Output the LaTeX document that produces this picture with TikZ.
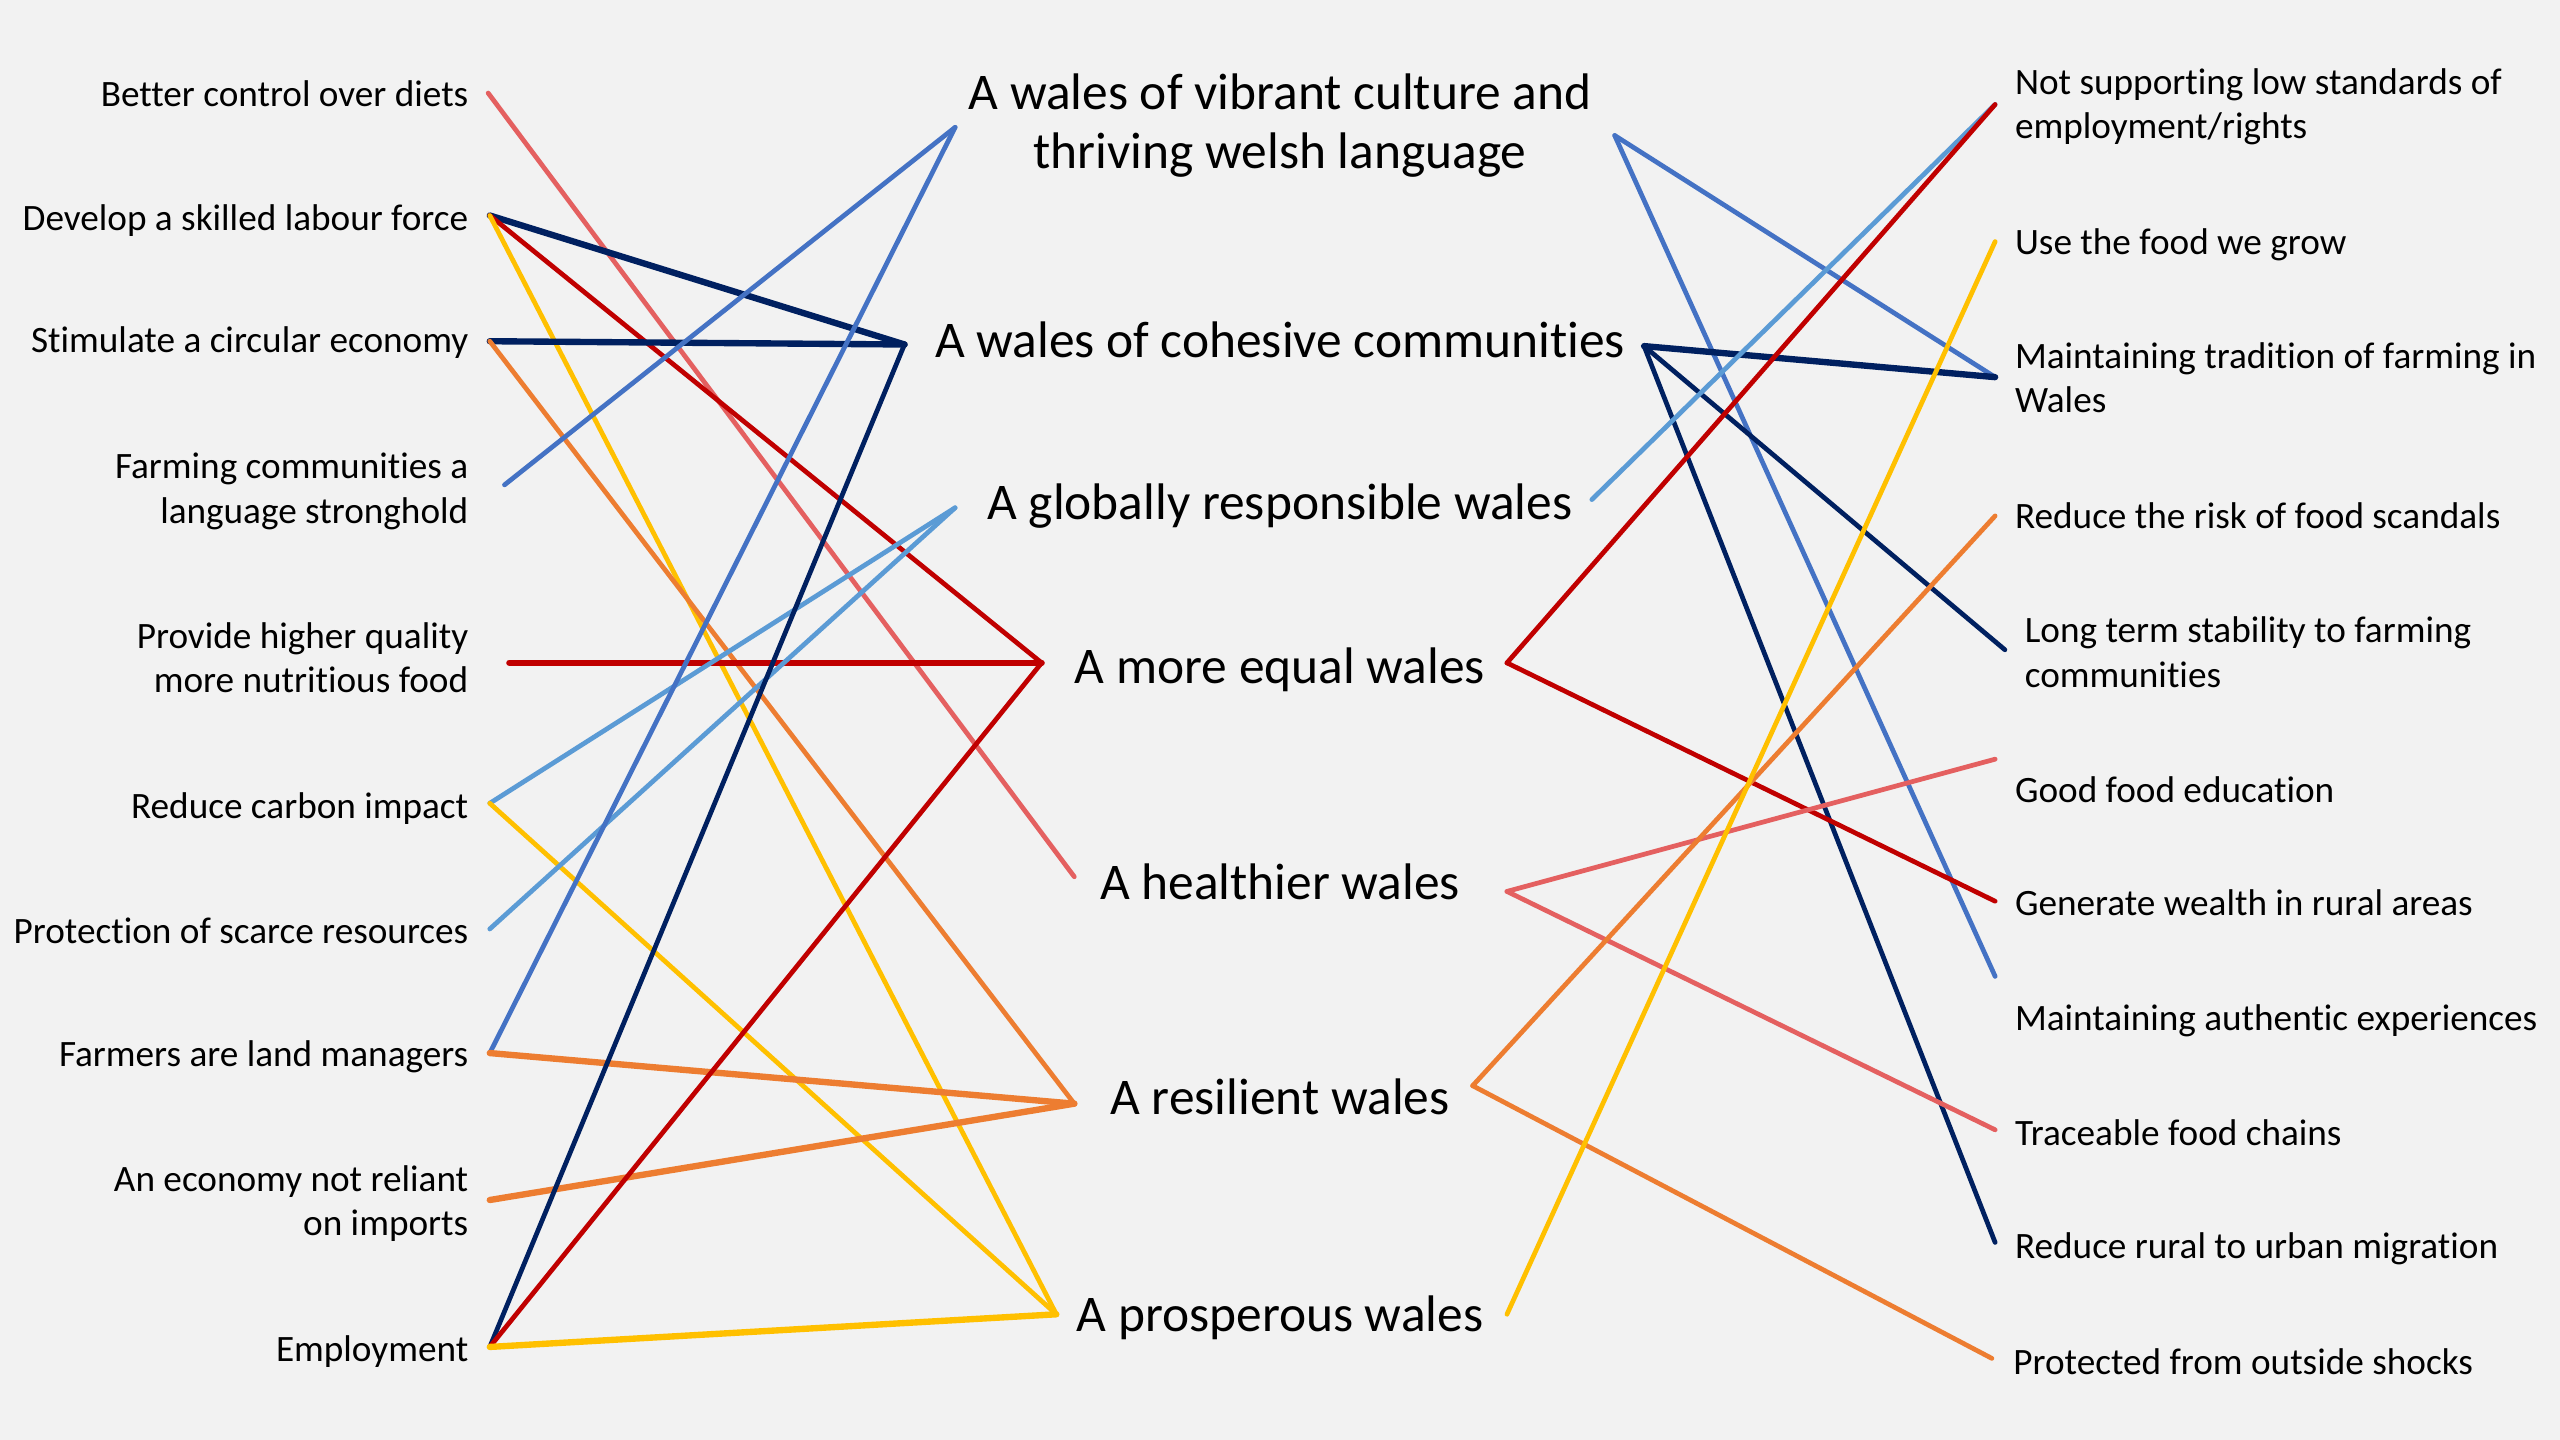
\documentclass[tikz,border=0pt]{standalone}
\usepackage{fontspec}
\setmainfont[Ligatures=NoCommon]{Carlito}
\definecolor{bg}{HTML}{F2F2F2}
\definecolor{cnavy}{HTML}{002060}
\definecolor{cblue}{HTML}{4472C4}
\definecolor{clight}{HTML}{5B9BD5}
\definecolor{cred}{HTML}{C00000}
\definecolor{cpink}{HTML}{E46060}
\definecolor{corange}{HTML}{ED7D31}
\definecolor{cyellow}{HTML}{FFC000}
\tikzset{
  lbl/.style={font=\fontsize{22.8}{27}\selectfont, inner sep=0pt, text=black},
  leftlbl/.style={lbl, anchor=east, align=right},
  rightlbl/.style={lbl, anchor=west, align=left},
  mainlbl/.style={font=\fontsize{31.5}{36}\selectfont, inner sep=0pt, anchor=center, align=center, text=black},
  conn/.style={line width=2.9pt, line cap=round, line join=round},
  thickconn/.style={line width=3.9pt, line cap=round, line join=round},
}
\begin{document}
\begin{tikzpicture}[x=1pt,y=-1pt]
\fill[bg] (0,0) rectangle (1568,882);
\useasboundingbox (0,0) rectangle (1568,882);

% left labels
\node[leftlbl] (l1) at (287,57.5) {Better control over diets};
\node[leftlbl] (l2) at (287,135) {Develop a skilled labour force};
\node[leftlbl] (l3) at (287,210) {Stimulate a circular economy};
\node[leftlbl] (l4) at (287,301) {Farming communities a\\language stronghold};
\node[leftlbl] (l5) at (287,403) {Provide higher quality\\more nutritious food};
\node[leftlbl] (l6) at (287,495) {Reduce carbon impact};
\node[leftlbl] (l7) at (287,570) {Protection of scarce resources};
\node[leftlbl] (l8) at (287,647) {Farmers are land managers};
\node[leftlbl] (l9) at (287,737) {An economy not reliant\\on imports};
\node[leftlbl] (l10) at (287,828) {Employment};

% centre labels
\node[mainlbl] (m1) at (784,77) {A wales of vibrant culture and\\thriving welsh language};
\node[mainlbl] (m2) at (784,208) {A wales of cohesive communities};
\node[mainlbl] (m3) at (784,310) {A globally responsible wales};
\node[mainlbl] (m4) at (784,410) {A more equal wales};
\node[mainlbl] (m5) at (784,540) {A healthier wales};
\node[mainlbl] (m6) at (784,672) {A resilient wales};
\node[mainlbl] (m7) at (784,807) {A prosperous wales};

% right labels
\node[rightlbl] (r1) at (1234,65.5) {Not supporting low standards of\\employment/rights};
\node[rightlbl] (r2) at (1234,150) {Use the food we grow};
\node[rightlbl] (r3) at (1234,231.5) {Maintaining tradition of farming in\\Wales};
\node[rightlbl] (r4) at (1234,316) {Reduce the risk of food scandals};
\node[rightlbl] (r5) at (1240,399.5) {Long term stability to farming\\communities};
\node[rightlbl] (r6) at (1234,484) {Good food education};
\node[rightlbl] (r7) at (1234,553) {Generate wealth in rural areas};
\node[rightlbl] (r8) at (1234,625) {Maintaining authentic experiences};
\node[rightlbl] (r9) at (1234,694) {Traceable food chains};
\node[rightlbl] (r10) at (1234,765) {Reduce rural to urban migration};
\node[rightlbl] (r11) at (1233,834) {Protected from outside shocks};

% connector end points, left side
\coordinate (a1) at (299,57);
\coordinate (a2) at (300,132);
\coordinate (a3) at (300,209);
\coordinate (a4) at (309,297);
\coordinate (a5) at (312,406);
\coordinate (a6) at (300,492);
\coordinate (a7) at (300,569);
\coordinate (a8) at (300,645);
\coordinate (a9) at (300,735);
\coordinate (a10) at (300,825);

% centre apexes, left side
\coordinate (v1) at (585,78);
\coordinate (v2) at (554,211);
\coordinate (v3) at (585,311);
\coordinate (v4) at (638,406);
\coordinate (v5) at (658,537);
\coordinate (v6) at (658,676);
\coordinate (v7) at (647,805);

% centre apexes, right side
\coordinate (w1) at (989,83);
\coordinate (w2) at (1007,212);
\coordinate (w3) at (975,306);
\coordinate (w4) at (923,406);
\coordinate (w5) at (923,546);
\coordinate (w6) at (902,665);
\coordinate (w7) at (923,805);

% connector end points, right side
\coordinate (b1) at (1222,64);
\coordinate (b2) at (1222,148);
\coordinate (b3) at (1222,231);
\coordinate (b4) at (1222,316);
\coordinate (b5) at (1228,398);
\coordinate (b6) at (1222,465);
\coordinate (b7) at (1222,552);
\coordinate (b8) at (1222,598);
\coordinate (b9) at (1222,692);
\coordinate (b10) at (1222,761);
\coordinate (b11) at (1220,832);

% left connectors
\draw[conn, cpink] (a1) -- (v5);
\draw[thickconn, cnavy] (a2) -- (v2);
\draw[conn, cred] (a2) -- (v4);
\draw[conn, cyellow] (a2) -- (v7);
\draw[thickconn, cnavy] (a3) -- (v2);
\draw[conn, corange] (a3) -- (v6);
\draw[conn, cblue] (a4) -- (v1);
\draw[thickconn, cred] (a5) -- (v4);
\draw[conn, clight] (a6) -- (v3);
\draw[conn, cyellow] (a6) -- (v7);
\draw[conn, clight] (a7) -- (v3);
\draw[conn, cblue] (a8) -- (v1);
\draw[thickconn, corange] (a8) -- (v6);
\draw[thickconn, corange] (a9) -- (v6);
\draw[conn, cnavy] (a10) -- (v2);
\draw[conn, cred] (a10) -- (v4);
\draw[thickconn, cyellow] (a10) -- (v7);

% right connectors
\draw[conn, cblue] (w1) -- (b3);
\draw[conn, cblue] (w1) -- (b8);
\draw[thickconn, cnavy] (w2) -- (b3);
\draw[conn, cnavy] (w2) -- (b5);
\draw[conn, cnavy] (w2) -- (b10);
\draw[conn, clight] (w3) -- (b1);
\draw[conn, cred] (w4) -- (b1);
\draw[conn, cred] (w4) -- (b7);
\draw[conn, cpink] (w5) -- (b6);
\draw[conn, cpink] (w5) -- (b9);
\draw[conn, corange] (w6) -- (b4);
\draw[conn, corange] (w6) -- (b11);
\draw[conn, cyellow] (w7) -- (b2);
\end{tikzpicture}
\end{document}
